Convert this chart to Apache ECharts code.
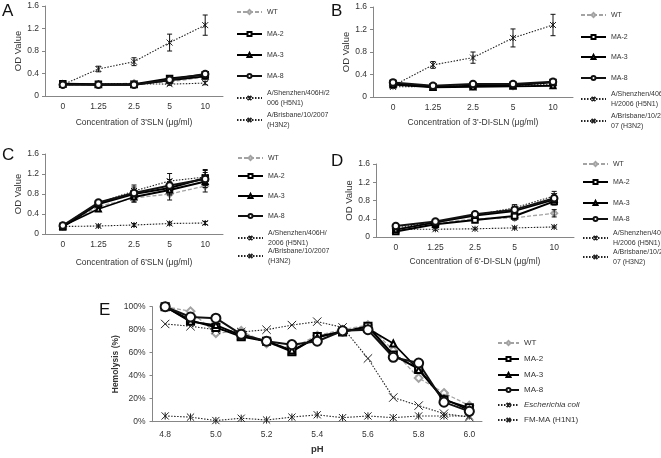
<!DOCTYPE html>
<html><head><meta charset="utf-8">
<script src="https://cdn.jsdelivr.net/npm/echarts@6/dist/echarts.min.js"></script>
<style>html,body{margin:0;padding:0;background:#fff}#c{width:661px;height:458px}</style>
</head><body><div id="c"></div>
<script>
// ---------- categories ----------
const conc = ['0', '1.25', '2.5', '5', '10'];
const pHCats = ['4.8','4.9','5.0','5.1','5.2','5.3','5.4','5.5','5.6','5.7','5.8','5.9','6.0'];

// ---------- Panel A : 3'SLN ----------
const A_WT   = [0.20, 0.20, 0.23, 0.25, 0.34];
const A_MA2  = [0.22, 0.21, 0.21, 0.31, 0.38];
const A_MA3  = [0.21, 0.20, 0.20, 0.28, 0.35];
const A_MA8  = [0.20, 0.20, 0.20, 0.29, 0.39];
const A_H5N1 = [0.20, 0.48, 0.61, 0.95, 1.26];
const A_H3N2 = [0.20, 0.21, 0.22, 0.21, 0.23];
const A_H5N1_err = [0.02, 0.05, 0.07, 0.15, 0.18];
const A_H3N2_err = [0.02, 0.02, 0.02, 0.02, 0.03];

// ---------- Panel B : 3'-DI-SLN ----------
const B_WT   = [0.20, 0.19, 0.19, 0.19, 0.21];
const B_MA2  = [0.24, 0.18, 0.20, 0.21, 0.26];
const B_MA3  = [0.22, 0.17, 0.18, 0.19, 0.20];
const B_MA8  = [0.26, 0.20, 0.23, 0.23, 0.27];
const B_H5N1 = [0.20, 0.57, 0.70, 1.05, 1.28];
const B_H3N2 = [0.18, 0.19, 0.20, 0.21, 0.22];
const B_H5N1_err = [0.02, 0.06, 0.10, 0.16, 0.19];
const B_H3N2_err = [0.02, 0.02, 0.02, 0.02, 0.02];

// ---------- Panel C : 6'SLN ----------
const C_WT   = [0.15, 0.55, 0.72, 0.80, 0.96];
const C_MA2  = [0.14, 0.60, 0.80, 0.92, 1.12];
const C_MA3  = [0.16, 0.50, 0.74, 0.88, 1.05];
const C_MA8  = [0.17, 0.63, 0.82, 0.97, 1.10];
const C_H5N1 = [0.15, 0.16, 0.18, 0.21, 0.22];
const C_H3N2 = [0.17, 0.62, 0.86, 1.06, 1.14];
const C_WT_err   = [0.02, 0.05, 0.08, 0.12, 0.12];
const C_MA2_err  = [0.02, 0.06, 0.10, 0.12, 0.15];
const C_MA3_err  = [0.02, 0.05, 0.10, 0.10, 0.12];
const C_MA8_err  = [0.02, 0.06, 0.12, 0.12, 0.13];
const C_H5N1_err = [0.02, 0.02, 0.03, 0.03, 0.03];
const C_H3N2_err = [0.02, 0.06, 0.12, 0.15, 0.15];

// ---------- Panel D : 6'-DI-SLN ----------
const D_WT   = [0.18, 0.30, 0.40, 0.42, 0.52];
const D_MA2  = [0.12, 0.28, 0.37, 0.46, 0.78];
const D_MA3  = [0.16, 0.32, 0.47, 0.57, 0.82];
const D_MA8  = [0.24, 0.34, 0.50, 0.60, 0.85];
const D_H5N1 = [0.17, 0.17, 0.18, 0.20, 0.22];
const D_H3N2 = [0.20, 0.33, 0.48, 0.64, 0.90];
const D_WT_err   = [0.02, 0.03, 0.04, 0.05, 0.08];
const D_MA2_err  = [0.02, 0.03, 0.04, 0.05, 0.08];
const D_MA3_err  = [0.02, 0.03, 0.04, 0.06, 0.08];
const D_MA8_err  = [0.02, 0.03, 0.04, 0.06, 0.10];
const D_H5N1_err = [0.02, 0.02, 0.02, 0.02, 0.02];
const D_H3N2_err = [0.02, 0.03, 0.04, 0.07, 0.10];

// ---------- Panel E : hemolysis (%) vs pH ----------
const E_WT    = [100, 96, 77, 79, 68, 64, 75, 80, 84, 62, 38, 25, 14];
const E_MA2   = [100, 88, 82, 74, 70, 61, 74, 78, 83, 58, 46, 19, 12];
const E_MA3   = [100, 87, 84, 75, 70, 62, 73, 79, 81, 68, 45, 20, 10];
const E_MA8   = [100, 91, 90, 76, 70, 67, 70, 79, 80, 56, 51, 17, 9];
const E_Ecoli = [5, 4, 1, 3, 1.5, 4, 6, 3.5, 5, 3.5, 5, 5, 5];
const E_FMMA  = [85, 83, 80, 78, 80, 84, 87, 82, 55, 21, 14, 7, 4];

// ---------- names ----------
const xNames = ["Concentration of 3'SLN (μg/ml)", "Concentration of 3'-DI-SLN (μg/ml)",
                "Concentration of 6'SLN (μg/ml)", "Concentration of 6'-DI-SLN (μg/ml)"];
const h5Names = ["A/Shenzhen/406H/2\n006 (H5N1)", "A/Shenzhen/406\nH/2006 (H5N1)",
                 "A/Shenzhen/406H/\n2006 (H5N1)", "A/Shenzhen/406\nH/2006 (H5N1)"];
const h3Names = ["A/Brisbane/10/2007\n(H3N2)", "A/Brisbane/10/20\n07 (H3N2)",
                 "A/Brisbane/10/2007\n(H3N2)", "A/Brisbane/10/20\n07 (H3N2)"];
const panelLetters = ['A', 'B', 'C', 'D', 'E'];

// ---------- styles ----------
const FONT = '"Liberation Sans", Arial, sans-serif';
const AXC = '#868686';
const TXC = '#333';
const X_SYM = 'path://M0,0L10,10M10,0L0,10';
const AST_SYM = 'path://M0,0L10,10M10,0L0,10M5,0L5,10';
const ST = {
  WT:   {color:'#a3a3a3', width:1.3, type:[4,2], symbol:'emptyDiamond', size:6, bw:1, z:2},
  MA2:  {color:'#000', width:2, type:'solid', symbol:'emptyRect', size:5.5, bw:1, z:5},
  MA3:  {color:'#000', width:1.8, type:'solid', symbol:'emptyTriangle', size:5, bw:1, z:5},
  MA8:  {color:'#111', width:2, type:'solid', symbol:'emptyCircle', size:6.5, bw:1, z:5},
  H5:   {color:'#222', width:1.1, type:[1.5,1.5], symbol:AST_SYM, size:6, bw:1, z:3},
  H3:   {color:'#222', width:1.1, type:[1.5,1.5], symbol:X_SYM, size:6, bw:1, z:3}
};

const grids = [
  {left:45, top:6, width:178, height:90},
  {left:373, top:7, width:200, height:90},
  {left:45, top:154, width:178, height:80},
  {left:376, top:164, width:198, height:73},
  {left:152.5, top:306.7, width:329.5, height:115}
];
const xNameGaps = [22, 21, 24, 20];
const yNameGaps = [20, 17, 21, 22];

function mkLine(name, key, data, gi, scale) {
  const s = ST[key];
  const sc = scale || 1;
  return {
    type:'line', name, xAxisIndex:gi, yAxisIndex:gi, data,
    symbol:s.symbol, symbolSize:s.size*sc, showAllSymbol:true,
    animation:false, z:s.z,
    lineStyle:{color:s.color, width:s.width, type:s.type},
    itemStyle:{color:s.color, borderColor:s.color, borderWidth:s.bw},
    emphasis:{disabled:true}
  };
}
function mkErr(gi, vals, errs) {
  return {
    type:'custom', xAxisIndex:gi, yAxisIndex:gi, silent:true, animation:false, z:4,
    data: vals.map((v,i)=>[i, v-errs[i], v+errs[i]]),
    encode:{x:0, y:[1,2]},
    renderItem:(p, api)=>{
      const lo = api.coord([api.value(0), api.value(1)]);
      const hi = api.coord([api.value(0), api.value(2)]);
      const w = 2.5;
      const st = {stroke:'#111', lineWidth:1};
      return {type:'group', children:[
        {type:'line', shape:{x1:lo[0], y1:lo[1], x2:hi[0], y2:hi[1]}, style:st},
        {type:'line', shape:{x1:lo[0]-w, y1:lo[1], x2:lo[0]+w, y2:lo[1]}, style:st},
        {type:'line', shape:{x1:hi[0]-w, y1:hi[1], x2:hi[0]+w, y2:hi[1]}, style:st}
      ]};
    }
  };
}

const xAxes = [], yAxes = [], series = [], legends = [], titles = [];
for (let i = 0; i < 4; i++) {
  xAxes.push({gridIndex:i, type:'category', data:conc, boundaryGap:true,
    name:xNames[i], nameLocation:'middle', nameGap:xNameGaps[i],
    nameTextStyle:{fontSize:8.5, color:TXC, fontFamily:FONT},
    axisLine:{lineStyle:{color:AXC, width:1}},
    axisTick:{length:3, lineStyle:{color:AXC}},
    axisLabel:{fontSize:8.5, color:TXC, margin:6, fontFamily:FONT}});
  yAxes.push({gridIndex:i, type:'value', min:0, max:1.6, interval:0.4,
    name:'OD Value', nameLocation:'middle', nameGap:yNameGaps[i],
    nameTextStyle:{fontSize:9.5, color:TXC, fontFamily:FONT},
    axisLine:{show:true, lineStyle:{color:AXC, width:1}},
    axisTick:{show:true, length:3, lineStyle:{color:AXC}},
    splitLine:{show:false},
    axisLabel:{fontSize:8.5, color:TXC, margin:6, fontFamily:FONT}});
}
xAxes.push({gridIndex:4, type:'category', data:pHCats, boundaryGap:true,
  name:'pH', nameLocation:'middle', nameGap:23,
  nameTextStyle:{fontSize:9.5, fontWeight:'bold', color:TXC, fontFamily:FONT},
  axisLine:{lineStyle:{color:AXC, width:1}},
  axisTick:{length:3, interval:0, lineStyle:{color:AXC}},
  axisLabel:{fontSize:8.5, color:TXC, margin:8, interval:1, fontFamily:FONT}});
yAxes.push({gridIndex:4, type:'value', min:0, max:100, interval:20,
  name:'Hemolysis (%)', nameLocation:'middle', nameGap:32,
  nameTextStyle:{fontSize:8.5, fontWeight:'bold', color:TXC, fontFamily:FONT},
  axisLine:{show:true, lineStyle:{color:AXC, width:1}},
  axisTick:{show:true, length:3, lineStyle:{color:AXC}},
  splitLine:{show:false},
  axisLabel:{fontSize:8.5, color:TXC, margin:7, formatter:'{value}%', fontFamily:FONT}});

const panels = [
  {WT:A_WT, MA2:A_MA2, MA3:A_MA3, MA8:A_MA8, H5:A_H5N1, H3:A_H3N2, err:{H5:A_H5N1_err, H3:A_H3N2_err}},
  {WT:B_WT, MA2:B_MA2, MA3:B_MA3, MA8:B_MA8, H5:B_H5N1, H3:B_H3N2, err:{H5:B_H5N1_err, H3:B_H3N2_err}},
  {WT:C_WT, MA2:C_MA2, MA3:C_MA3, MA8:C_MA8, H5:C_H5N1, H3:C_H3N2,
   err:{WT:C_WT_err, MA2:C_MA2_err, MA3:C_MA3_err, MA8:C_MA8_err, H5:C_H5N1_err, H3:C_H3N2_err}},
  {WT:D_WT, MA2:D_MA2, MA3:D_MA3, MA8:D_MA8, H5:D_H5N1, H3:D_H3N2,
   err:{WT:D_WT_err, MA2:D_MA2_err, MA3:D_MA3_err, MA8:D_MA8_err, H5:D_H5N1_err, H3:D_H3N2_err}}
];
const legendLeft = [236, 580, 237, 582];
const legendCY = [
  [12, 34, 55, 76, 98, 120],
  [15, 37, 57, 78, 99, 121],
  [158, 176, 196, 216, 238, 256],
  [164, 182, 203, 219, 238, 257]
];
const LH = 10.8;
function addLegend(name, left, cy, lines, fs, lh, iw, extra) {
  const h = lines > 1 ? (2*lines-1)*lh/2 : lh/2;
  const item = {name};
  item.textStyle = Object.assign({}, extra || {}, lines > 1 ? {padding:[lh*(lines-1),0,0,0]} : {});
  legends.push({left, top:cy - h, padding:0, itemGap:0, itemWidth:iw, itemHeight:5,
    selectedMode:false, orient:'vertical', data:[item],
    textStyle:{fontSize:fs, lineHeight:lh, color:TXC, fontFamily:FONT}});
}

panels.forEach((p, gi) => {
  series.push(mkLine('WT', 'WT', p.WT, gi));
  series.push(mkLine(h5Names[gi], 'H5', p.H5, gi));
  series.push(mkLine(h3Names[gi], 'H3', p.H3, gi));
  series.push(mkLine('MA-2', 'MA2', p.MA2, gi));
  series.push(mkLine('MA-3', 'MA3', p.MA3, gi));
  series.push(mkLine('MA-8', 'MA8', p.MA8, gi));
  Object.keys(p.err).forEach(k => series.push(mkErr(gi, p[k], p.err[k])));
  const names = ['WT', 'MA-2', 'MA-3', 'MA-8', h5Names[gi], h3Names[gi]];
  names.forEach((n, j) => addLegend(n, legendLeft[gi], legendCY[gi][j], n.split('\n').length, 7, LH, 25));
});

series.push(mkLine('WT', 'WT', E_WT, 4, 1.3));
series.push(mkLine('Escherichia coli', 'H5', E_Ecoli, 4, 1.2));
series.push(mkLine('FM-MA (H1N1)', 'H3', E_FMMA, 4, 1.4));
series.push(mkLine('MA-2', 'MA2', E_MA2, 4, 1.3));
series.push(mkLine('MA-3', 'MA3', E_MA3, 4, 1.2));
series.push(mkLine('MA-8', 'MA8', E_MA8, 4, 1.4));
const eNames = ['WT', 'MA-2', 'MA-3', 'MA-8', 'Escherichia coli', 'FM-MA (H1N1)'];
const eCY = [343, 359, 375, 390, 405, 420];
eNames.forEach((n, j) => addLegend(n, 497, eCY[j], 1, 8, 10, 21, j === 4 ? {fontStyle:'italic'} : null));

const titlePos = [[2, 3], [331, 3], [2, 147], [331, 153], [99, 302]];
panelLetters.forEach((t, i) => titles.push({text:t, left:titlePos[i][0], top:titlePos[i][1], padding:0,
  textStyle:{fontSize:17, fontWeight:'normal', color:'#111', fontFamily:FONT}}));

const chart = echarts.init(document.getElementById('c'));
chart.setOption({
  animation:false, backgroundColor:'#fff',
  title:titles, grid:grids, xAxis:xAxes, yAxis:yAxes, legend:legends, series
});
</script></body></html>
